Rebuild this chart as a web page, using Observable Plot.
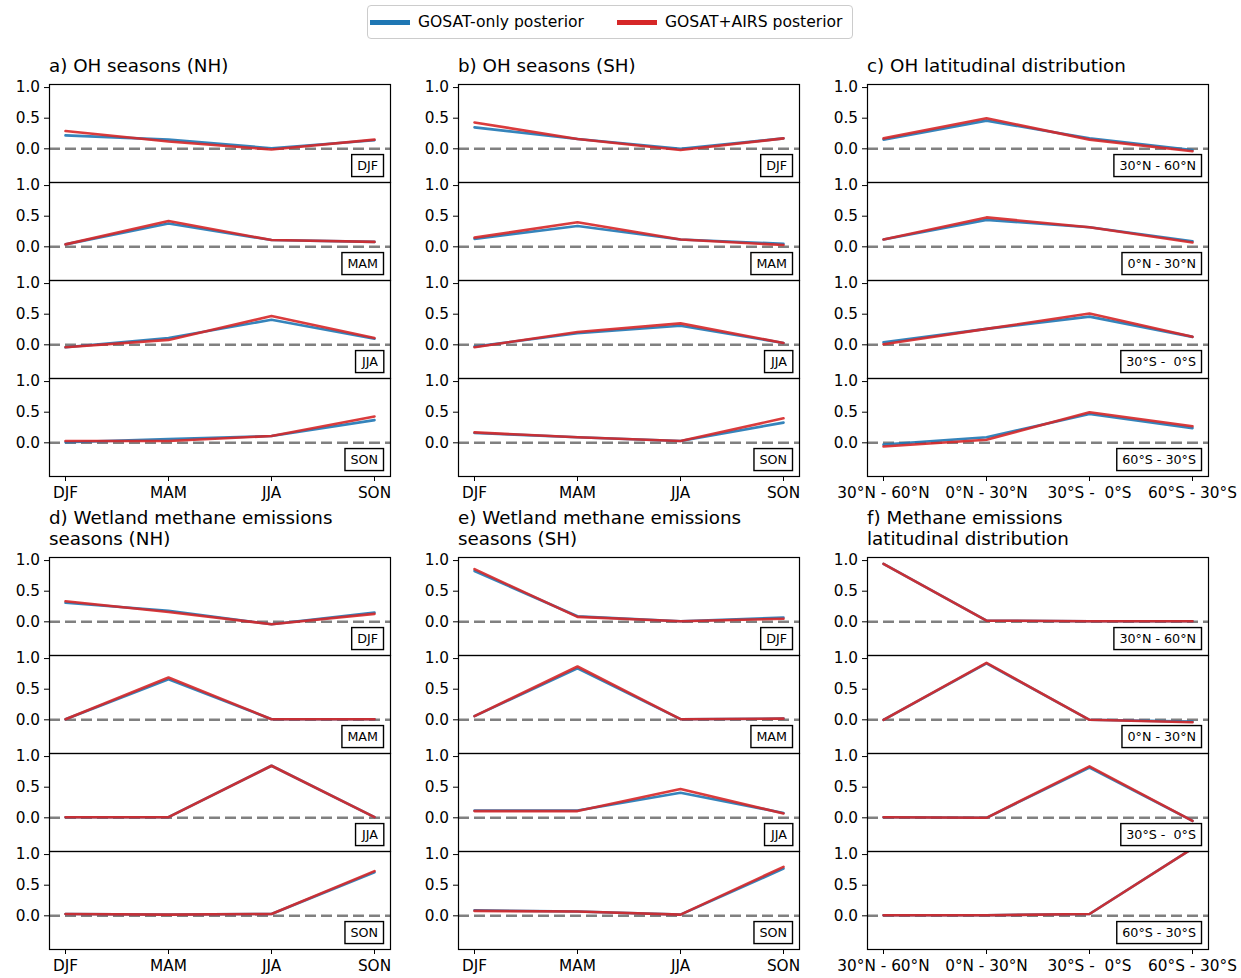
<!DOCTYPE html>
<html><head><meta charset="utf-8">
<script src="https://cdn.jsdelivr.net/npm/d3@7"></script>
<script src="https://cdn.jsdelivr.net/npm/@observablehq/plot@0.6"></script>
<style>
html,body{margin:0;padding:0;background:#fff;overflow:hidden;}
#root{position:relative;width:1241px;height:978px;font-family:"DejaVu Sans",sans-serif;color:#000;}
.title{position:absolute;font-size:18.3px;line-height:21px;white-space:pre;}
.legend{position:absolute;left:367px;top:5px;width:484px;height:32px;border:1px solid #cccccc;border-radius:4px;font-size:15.6px;}
.legend .handle{position:absolute;top:14px;width:40px;height:4.5px;}
.legend .lab{position:absolute;top:6px;line-height:20px;white-space:pre;}
.panel{position:absolute;}
</style></head><body><div id="root"></div>
<script>
// ---- categories and labels ----
const seasons = ["DJF", "MAM", "JJA", "SON"];
const latBands = ["30°N - 60°N", "0°N - 30°N", "30°S -  0°S", "60°S - 30°S"];
const seriesNames = ["GOSAT-only posterior", "GOSAT+AIRS posterior"];
const seriesColors = ["#1f77b4", "#d62728"];
const panelTitles = [
  "a) OH seasons (NH)",
  "b) OH seasons (SH)",
  "c) OH latitudinal distribution",
  "d) Wetland methane emissions\nseasons (NH)",
  "e) Wetland methane emissions\nseasons (SH)",
  "f) Methane emissions\nlatitudinal distribution"
];

// ---- values: rows = sub-panel (DJF/MAM/JJA/SON or band), columns = x categories ----
const ohNH_gosat = [[0.22, 0.15, 0.01, 0.14], [0.04, 0.38, 0.11, 0.08], [-0.04, 0.11, 0.41, 0.10], [0.01, 0.06, 0.11, 0.37]];
const ohNH_airs  = [[0.29, 0.12, -0.01, 0.15], [0.04, 0.42, 0.11, 0.08], [-0.04, 0.08, 0.47, 0.11], [0.03, 0.03, 0.11, 0.43]];

const ohSH_gosat = [[0.35, 0.16, 0.00, 0.17], [0.13, 0.34, 0.12, 0.05], [-0.03, 0.19, 0.31, 0.03], [0.16, 0.09, 0.03, 0.33]];
const ohSH_airs  = [[0.43, 0.16, -0.02, 0.17], [0.15, 0.40, 0.12, 0.03], [-0.04, 0.21, 0.35, 0.03], [0.17, 0.09, 0.03, 0.40]];

const ohLat_gosat = [[0.15, 0.46, 0.17, -0.02], [0.12, 0.44, 0.32, 0.09], [0.04, 0.26, 0.46, 0.13], [-0.03, 0.09, 0.47, 0.24]];
const ohLat_airs  = [[0.17, 0.50, 0.15, -0.04], [0.12, 0.48, 0.32, 0.07], [0.01, 0.26, 0.51, 0.13], [-0.06, 0.05, 0.50, 0.27]];

const wetNH_gosat = [[0.31, 0.18, -0.04, 0.15], [0.01, 0.66, 0.01, 0.01], [0.01, 0.01, 0.85, 0.01], [0.03, 0.02, 0.03, 0.71]];
const wetNH_airs  = [[0.335, 0.16, -0.04, 0.13], [0.01, 0.69, 0.01, 0.01], [0.01, 0.01, 0.85, 0.01], [0.03, 0.02, 0.03, 0.73]];

const wetSH_gosat = [[0.83, 0.09, 0.01, 0.07], [0.06, 0.84, 0.01, 0.02], [0.12, 0.12, 0.41, 0.08], [0.09, 0.07, 0.02, 0.77]];
const wetSH_airs  = [[0.86, 0.08, 0.01, 0.05], [0.06, 0.87, 0.01, 0.02], [0.11, 0.11, 0.47, 0.07], [0.08, 0.07, 0.02, 0.80]];

const ch4Lat_gosat = [[0.945, 0.02, 0.01, 0.01], [0.00, 0.92, 0.00, -0.03], [0.01, 0.00, 0.82, -0.05], [0.01, 0.01, 0.03, 1.10]];
const ch4Lat_airs  = [[0.945, 0.02, 0.01, 0.01], [0.00, 0.93, 0.00, -0.04], [0.01, 0.00, 0.84, -0.05], [0.01, 0.01, 0.03, 1.10]];

const yTicks = [0, 0.5, 1.0];

const panels = [
  {title: panelTitles[0], cats: seasons, series: [ohNH_gosat, ohNH_airs]},
  {title: panelTitles[1], cats: seasons, series: [ohSH_gosat, ohSH_airs]},
  {title: panelTitles[2], cats: latBands, series: [ohLat_gosat, ohLat_airs]},
  {title: panelTitles[3], cats: seasons, series: [wetNH_gosat, wetNH_airs]},
  {title: panelTitles[4], cats: seasons, series: [wetSH_gosat, wetSH_airs]},
  {title: panelTitles[5], cats: latBands, series: [ch4Lat_gosat, ch4Lat_airs]}
];

// ---- layout ----
const root = document.getElementById("root");
const colFrameLeft = [49, 458, 867];
const groupFrameTop = [82, 555];
const titleTop = [55, 507];
const mL = 48, mR = 33, mT = 12, mB = 28, frameW = 341, frameH = 395;

// legend
const legend = document.createElement("div");
legend.className = "legend";
const handleLeft = [2, 249], labelLeft = [50, 297];
seriesNames.forEach((name, i) => {
  const h = document.createElement("span");
  h.className = "handle"; h.style.left = handleLeft[i] + "px"; h.style.background = seriesColors[i];
  const l = document.createElement("span");
  l.className = "lab"; l.style.left = labelLeft[i] + "px"; l.textContent = name;
  legend.appendChild(h); legend.appendChild(l);
});
root.appendChild(legend);

panels.forEach((p, idx) => {
  const col = idx % 3, grp = Math.floor(idx / 3);
  const rowsBy = p.series.map(mat => {
    const out = [];
    p.cats.forEach((sub, r) => p.cats.forEach((c, k) => out.push({sub, cat: c, v: mat[r][k]})));
    return out;
  });

  const t = document.createElement("div");
  t.className = "title";
  t.style.left = colFrameLeft[col] + "px";
  t.style.top = titleTop[grp] + "px";
  t.textContent = p.title;
  root.appendChild(t);

  const svg = Plot.plot({
    width: mL + frameW + mR,
    height: mT + frameH + mB,
    marginLeft: mL, marginRight: mR, marginTop: mT, marginBottom: mB,
    style: {fontFamily: "DejaVu Sans", fontSize: "15.3px", overflow: "visible", background: "transparent", color: "black"},
    x: {type: "point", domain: p.cats, padding: 0.155, tickSize: 5, tickPadding: 6, label: null},
    y: {domain: [-0.55, 1.05], ticks: yTicks, tickFormat: ".1f", tickSize: 5, tickPadding: 4.5, label: null},
    fy: {domain: p.cats, padding: 0, axis: null, label: null},
    marks: [
      Plot.ruleY([0], {stroke: "gray", strokeWidth: 2.4, strokeDasharray: "11,5"}),
      Plot.line(rowsBy[0], {x: "cat", y: "v", fy: "sub", stroke: seriesColors[0], strokeWidth: 2.6, strokeOpacity: 0.9, clip: true}),
      Plot.line(rowsBy[1], {x: "cat", y: "v", fy: "sub", stroke: seriesColors[1], strokeWidth: 2.6, strokeOpacity: 0.9, clip: true}),
      Plot.text(p.cats, {fy: d => d, text: d => d, frameAnchor: "bottom-right", textAnchor: "end", lineAnchor: "middle", dx: -12.5, dy: -16.5, fontSize: 12.7, fill: "black", ariaLabel: "inset-label"}),
      Plot.frame({stroke: "black", strokeWidth: 1.2})
    ]
  });
  const wrap = document.createElement("div");
  wrap.className = "panel";
  wrap.style.left = (colFrameLeft[col] - mL) + "px";
  wrap.style.top = (groupFrameTop[grp] - mT) + "px";
  wrap.appendChild(svg);
  root.appendChild(wrap);

  // boxes around the inset labels
  let texts = svg.querySelectorAll('[aria-label="inset-label"] text');
  if (!texts.length) texts = svg.querySelectorAll('[font-size="12.7"] text');
  texts.forEach(tx => {
    const b = tx.getBBox();
    const r = document.createElementNS("http://www.w3.org/2000/svg", "rect");
    r.setAttribute("x", b.x - 5.5);
    r.setAttribute("y", b.y - 3.5);
    r.setAttribute("width", b.width + 11);
    r.setAttribute("height", b.height + 7);
    r.setAttribute("fill", "white");
    r.setAttribute("stroke", "black");
    r.setAttribute("stroke-width", 1.4);
    const tr = tx.getAttribute("transform");
    if (tr) r.setAttribute("transform", tr);
    tx.parentNode.insertBefore(r, tx);
  });
});
</script></body></html>
